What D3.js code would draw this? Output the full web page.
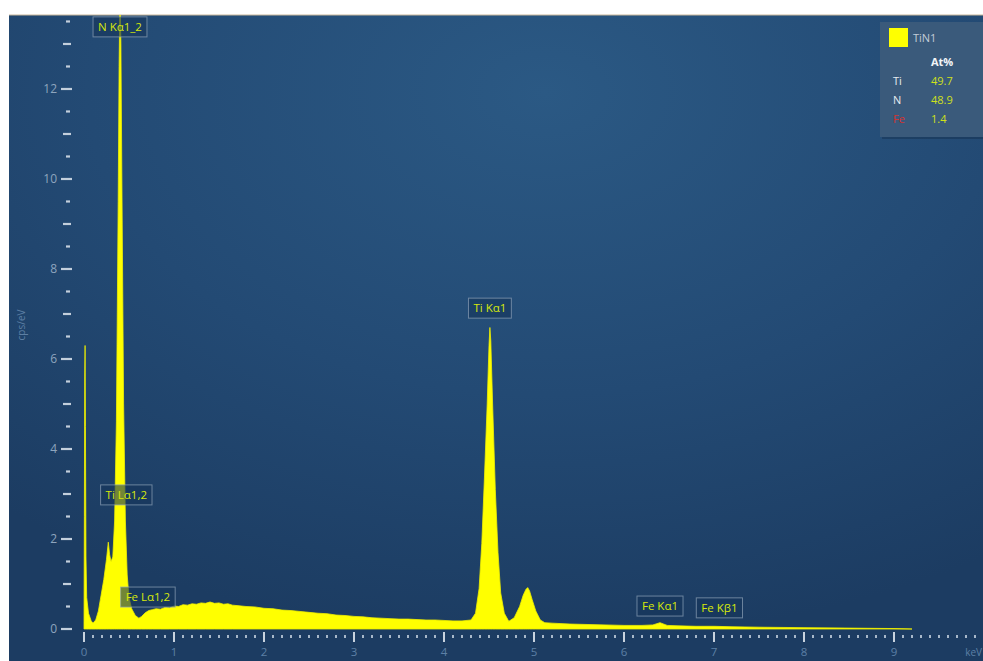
<!DOCTYPE html>
<html><head><meta charset="utf-8">
<script src="https://cdn.jsdelivr.net/npm/d3@7"></script>
<style>body{margin:0;background:#fff;overflow:hidden} svg{display:block}</style>
</head><body>
<svg id="c" width="983" height="661"></svg>
<script>
// ---- data ----
const energies = [0,0.004,0.008,0.012,0.016,0.022,0.03,0.05,0.08,0.1,0.13,0.16,0.19,0.22,0.25,0.27,0.285,0.3,0.32,0.34,0.36,0.38,0.39,0.40,0.41,0.42,0.44,0.46,0.48,0.50,0.53,0.57,0.61,0.64,0.68,0.72,0.76,0.80,0.85,0.9,0.95,1.0,1.05,1.1,1.15,1.2,1.25,1.3,1.35,1.4,1.45,1.5,1.55,1.6,1.65,1.7,1.8,1.9,2.0,2.1,2.2,2.3,2.4,2.5,2.6,2.7,2.8,2.9,3.0,3.1,3.2,3.3,3.4,3.5,3.6,3.7,3.8,3.9,4.0,4.1,4.2,4.3,4.35,4.39,4.42,4.45,4.48,4.50,4.51,4.52,4.54,4.57,4.60,4.63,4.67,4.72,4.78,4.84,4.88,4.91,4.93,4.95,4.98,5.02,5.07,5.12,5.2,5.4,5.6,5.8,6.0,6.2,6.32,6.4,6.48,6.6,6.8,7.0,7.2,7.5,8.0,8.5,9.0,9.2];
const cps = [0,2.5,5.6,6.3,4.5,1.6,0.7,0.35,0.18,0.13,0.2,0.4,0.75,1.1,1.55,1.93,1.65,1.5,1.6,2.4,4.6,9.5,12.5,14.2,13.0,10.2,5.0,2.4,1.2,0.7,0.45,0.3,0.24,0.28,0.36,0.41,0.43,0.45,0.44,0.48,0.47,0.51,0.5,0.54,0.53,0.56,0.55,0.58,0.57,0.6,0.57,0.58,0.55,0.56,0.53,0.52,0.5,0.49,0.46,0.45,0.42,0.41,0.39,0.37,0.35,0.34,0.31,0.3,0.28,0.27,0.25,0.24,0.23,0.22,0.22,0.21,0.2,0.2,0.19,0.18,0.18,0.2,0.35,0.9,1.9,3.4,5.0,6.3,6.7,6.4,5.0,3.1,1.7,0.8,0.35,0.17,0.25,0.5,0.75,0.88,0.92,0.85,0.65,0.4,0.2,0.14,0.13,0.11,0.1,0.09,0.08,0.08,0.09,0.14,0.08,0.07,0.06,0.06,0.05,0.04,0.03,0.02,0.01,0];
const yTickLabels = [0,2,4,6,8,10,12];
const xTickLabels = [0,1,2,3,4,5,6,7,8,9];
const peakLabels = ["N Kα1_2","Ti Kα1","Ti Lα1,2","Fe Lα1,2","Fe Kα1","Fe Kβ1"];
const peakLabelKeV = [0.40,4.51,0.47,0.71,6.40,7.06];
const peakLabelCps = [13.38,7.13,2.98,0.71,0.51,0.47];
const legendName = "TiN1";
const legendHeader = "At%";
const elements = ["Ti","N","Fe"];
const atPercent = ["49.7","48.9","1.4"];

// ---- drawing ----
const svg = d3.select("#c");
const W = 983, H = 661;
const FONT = "Open Sans, Arial, sans-serif";
const defs = svg.append("defs");
const grad = defs.append("radialGradient").attr("id","bg")
  .attr("cx","0.55").attr("cy","0.12").attr("r","0.85");
grad.append("stop").attr("offset","0").attr("stop-color","#2b5984");
grad.append("stop").attr("offset","0.55").attr("stop-color","#234a74");
grad.append("stop").attr("offset","1").attr("stop-color","#1c3c62");
defs.append("clipPath").attr("id","clip").append("rect")
  .attr("x",9).attr("y",15).attr("width",W-9).attr("height",H-15);

svg.append("rect").attr("width",W).attr("height",H).attr("fill","#ffffff");
svg.append("rect").attr("x",9).attr("y",15).attr("width",W-9).attr("height",H-15).attr("fill","url(#bg)");
svg.append("line").attr("x1",9).attr("x2",W).attr("y1",15).attr("y2",15).attr("stroke","#c9b79a").attr("stroke-width",1);

const x = d3.scaleLinear().domain([0,9.9]).range([84,975]);
const y = d3.scaleLinear().domain([0,13.644]).range([629,15]);

// spectrum
const data = energies.map((e,i)=>({e, v: cps[i]}));
const area = d3.area().x(d=>x(d.e)).y0(y(0)).y1(d=>y(d.v)).curve(d3.curveLinear);
svg.append("g").attr("clip-path","url(#clip)")
  .append("path").datum(data).attr("d",area)
  .attr("fill","#ffff00").attr("stroke","#f0f000").attr("stroke-width",0.8);

// y axis ticks
const yt = svg.append("g");
d3.range(0,13.51,0.5).forEach(v=>{
  const isEven = Math.abs(v%2)<1e-6;
  const isInt = Math.abs(v%1)<1e-6;
  const x1 = isEven?61:(isInt?63:66), x2 = isEven?72:(isInt?71:70);
  yt.append("line").attr("x1",x1).attr("x2",x2).attr("y1",y(v)).attr("y2",y(v))
    .attr("stroke","#c3cfdc").attr("stroke-width",2.2);
});
yTickLabels.forEach(v=>{
  yt.append("text").attr("x",57).attr("y",y(v)+4).attr("text-anchor","end")
    .attr("font-family",FONT).attr("font-size",12)
    .attr("fill","#8ea5be").text(v);
});
svg.append("text").attr("transform","translate(25,325) rotate(-90)")
  .attr("text-anchor","middle").attr("font-family",FONT)
  .attr("font-size",10).attr("fill","#5d7fa4").text("cps/eV");

// x axis ticks
const xt = svg.append("g");
d3.range(0,9.95,0.1).forEach(e=>{
  const isInt = Math.abs(e-Math.round(e))<1e-6;
  if(isInt){
    xt.append("line").attr("x1",x(e)).attr("x2",x(e)).attr("y1",632).attr("y2",642)
      .attr("stroke","#c8d3df").attr("stroke-width",2);
  } else {
    xt.append("line").attr("x1",x(e)).attr("x2",x(e)).attr("y1",635).attr("y2",638)
      .attr("stroke","#b9c7d6").attr("stroke-width",1.8);
  }
});
xTickLabels.forEach(v=>{
  xt.append("text").attr("x",x(v)).attr("y",656).attr("text-anchor","middle")
    .attr("font-family",FONT).attr("font-size",11.5)
    .attr("fill","#5d80a6").text(v);
});
xt.append("text").attr("x",982).attr("y",656).attr("text-anchor","end")
  .attr("font-family",FONT).attr("font-size",10)
  .attr("fill","#5d80a6").text("keV");

// peak labels
const lg = svg.append("g");
peakLabels.forEach((t,i)=>{
  const cx = x(peakLabelKeV[i]), cy = y(peakLabelCps[i]);
  const g = lg.append("g");
  const r = g.append("rect");
  const tx = g.append("text").attr("x",cx).attr("y",cy+4).attr("text-anchor","middle")
    .attr("font-family",FONT).attr("font-size",11.5)
    .attr("fill","#d6e80a").text(t);
  const w = tx.node().getComputedTextLength()+10;
  r.attr("x",cx-w/2).attr("y",cy-10).attr("width",w).attr("height",20)
    .attr("fill","#16355a").attr("fill-opacity",0.6)
    .attr("stroke","#8fa3b8").attr("stroke-opacity",0.7).attr("stroke-width",1);
});

// legend
const leg = svg.append("g");
leg.append("rect").attr("x",882).attr("y",24).attr("width",110).attr("height",115)
  .attr("fill","#0f2640").attr("opacity",0.35);
leg.append("rect").attr("x",880).attr("y",22).attr("width",110).attr("height",115)
  .attr("fill","#3a5a7b");
leg.append("rect").attr("x",889).attr("y",28).attr("width",19).attr("height",19).attr("fill","#ffff00");
leg.append("text").attr("x",913).attr("y",42).attr("font-family",FONT)
  .attr("font-size",11).attr("fill","#c2ccd7").text(legendName);
leg.append("text").attr("x",931).attr("y",66).attr("font-family",FONT)
  .attr("font-size",11).attr("font-weight","bold").attr("fill","#f2f5f8").text(legendHeader);
const elColors = ["#e6ebf0","#e6ebf0","#d8322e"];
elements.forEach((el,i)=>{
  const yy = 85 + i*19;
  leg.append("text").attr("x",893).attr("y",yy).attr("font-family",FONT)
    .attr("font-size",11).attr("fill",elColors[i]).text(el);
  leg.append("text").attr("x",931).attr("y",yy).attr("font-family",FONT)
    .attr("font-size",11).attr("fill","#cfe01a").text(atPercent[i]);
});
</script>
</body></html>
